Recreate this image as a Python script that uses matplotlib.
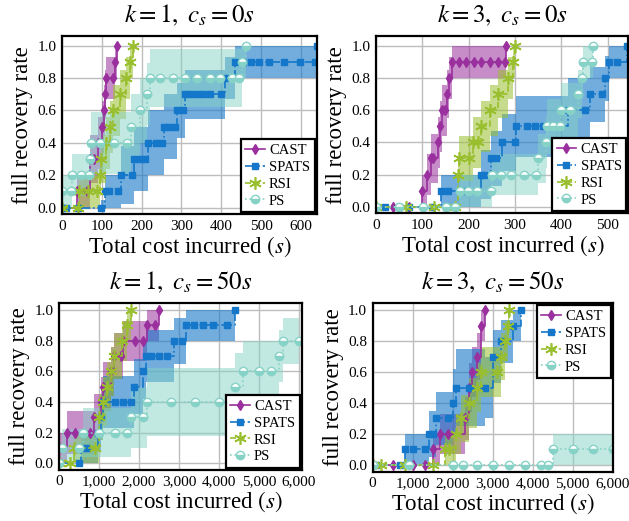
import numpy as np
import matplotlib
matplotlib.use("Agg")
import matplotlib.pyplot as plt
from matplotlib.ticker import FuncFormatter

plt.rcParams['font.family'] = ['Liberation Serif', 'DejaVu Serif']
plt.rcParams['mathtext.fontset'] = 'stix'

# ---- panel 1: k=1, cs=0 ----
p1_cast_x = [0, 38, 64, 70, 80, 90, 100, 105, 108, 110, 129, 133, 138]
p1_cast_y = [0, 0.1, 0.1, 0.3, 0.3, 0.4, 0.5, 0.6, 0.7, 0.8, 0.8, 0.9, 1.0]
p1_cast_e = [0, 0.1, 0.12, 0.15, 0.15, 0.16, 0.16, 0.16, 0.15, 0.13, 0.13, 0.1, 0]

p1_spats_x = [0, 11, 40, 99, 107, 119, 140, 147, 176, 180, 195, 209, 216, 236, 252, 256, 270, 285,
              290, 305, 308, 322, 338, 355, 373, 399, 410, 435, 454, 474, 495, 519, 558, 598, 636, 640]
p1_spats_y = [0, 0, 0, 0, 0.1, 0.1, 0.1, 0.2, 0.2, 0.3, 0.3, 0.3, 0.4, 0.4, 0.4, 0.5, 0.5, 0.5,
              0.6, 0.6, 0.7, 0.7, 0.7, 0.7, 0.7, 0.7, 0.8, 0.9, 0.9, 0.9, 0.9, 0.9, 0.9, 0.9, 0.9, 1.0]
p1_spats_e = [0, 0, 0, 0.05, 0.1, 0.1, 0.1, 0.18, 0.18, 0.2, 0.2, 0.2, 0.2, 0.2, 0.2, 0.2, 0.2, 0.2,
              0.17, 0.17, 0.15, 0.15, 0.15, 0.15, 0.15, 0.15, 0.13, 0.1, 0.1, 0.1, 0.1, 0.1, 0.1, 0.1, 0.1, 0.1]

p1_rsi_x = [0, 40, 42, 65, 88, 95, 97, 110, 120, 129, 146, 160, 171, 178]
p1_rsi_y = [0, 0, 0.1, 0.1, 0.1, 0.2, 0.3, 0.4, 0.5, 0.6, 0.7, 0.8, 0.9, 1.0]
p1_rsi_e = [0, 0, 0.1, 0.1, 0.1, 0.13, 0.15, 0.16, 0.16, 0.16, 0.15, 0.13, 0.1, 0]

p1_ps_x = [0, 22, 26, 48, 68, 70, 72, 96, 130, 164, 174, 195, 213, 220, 247, 278, 309, 339, 373,
           398, 427, 444, 452, 463]
p1_ps_y = [0.1, 0.1, 0.2, 0.2, 0.2, 0.3, 0.4, 0.4, 0.4, 0.4, 0.5, 0.6, 0.7, 0.8, 0.8, 0.8, 0.8, 0.8,
           0.8, 0.8, 0.8, 0.8, 0.9, 1.0]
p1_ps_e = [0.1, 0.1, 0.13, 0.13, 0.13, 0.15, 0.19, 0.19, 0.19, 0.19, 0.2, 0.2, 0.19, 0.18, 0.18,
           0.18, 0.18, 0.18, 0.18, 0.18, 0.18, 0.18, 0.1, 0]

# ---- panel 2: k=3, cs=0 ----
p2_cast_x = [0, 36, 71, 99, 109, 118, 123, 133, 138, 142, 148, 154, 158, 163, 179, 195, 211, 227,
             245, 263, 278, 280]
p2_cast_y = [0, 0, 0, 0.1, 0.2, 0.3, 0.3, 0.4, 0.5, 0.6, 0.6, 0.7, 0.8, 0.9, 0.9, 0.9, 0.9, 0.9,
             0.9, 0.9, 0.9, 1.0]
p2_cast_e = [0, 0, 0, 0.1, 0.13, 0.15, 0.15, 0.16, 0.16, 0.16, 0.16, 0.15, 0.13, 0.1, 0.1, 0.1,
             0.1, 0.1, 0.1, 0.1, 0.1, 0]

p2_spats_x = [0, 20, 50, 70, 120, 141, 155, 188, 227, 234, 249, 260, 271, 299, 303, 325, 343, 361,
              415, 451, 462, 487, 495, 504, 520, 543]
p2_spats_y = [0, 0, 0, 0, 0, 0.1, 0.1, 0.1, 0.2, 0.2, 0.3, 0.3, 0.4, 0.4, 0.5, 0.5, 0.5, 0.5,
              0.6, 0.6, 0.7, 0.7, 0.8, 0.9, 0.9, 1.0]
p2_spats_e = [0, 0, 0, 0, 0, 0.1, 0.1, 0.1, 0.15, 0.15, 0.17, 0.17, 0.18, 0.18, 0.19, 0.19, 0.19,
              0.19, 0.2, 0.2, 0.17, 0.17, 0.14, 0.1, 0.1, 0.1]

p2_rsi_x = [0, 65, 125, 170, 176, 179, 200, 209, 220, 227, 245, 263, 284, 296, 300]
p2_rsi_y = [0, 0, 0, 0, 0.2, 0.3, 0.3, 0.4, 0.4, 0.5, 0.6, 0.7, 0.8, 0.9, 1.0]
p2_rsi_e = [0, 0, 0, 0, 0.12, 0.14, 0.14, 0.16, 0.16, 0.16, 0.16, 0.15, 0.13, 0.1, 0]

p2_ps_x = [0, 50, 101, 150, 171, 182, 199, 217, 249, 251, 270, 291, 320, 346, 350, 366, 369, 383,
           397, 400, 418, 436, 444, 448, 466, 468]
p2_ps_y = [0, 0, 0, 0, 0, 0.1, 0.1, 0.1, 0.1, 0.2, 0.2, 0.2, 0.2, 0.2, 0.3, 0.4, 0.5, 0.5, 0.5,
           0.6, 0.6, 0.7, 0.8, 0.9, 0.9, 1.0]
p2_ps_e = [0, 0, 0, 0, 0, 0.1, 0.1, 0.1, 0.1, 0.13, 0.13, 0.13, 0.13, 0.13, 0.15, 0.16, 0.17,
           0.17, 0.17, 0.17, 0.17, 0.15, 0.13, 0.1, 0.1, 0]

# ---- panel 3: k=1, cs=50 ----
p3_cast_x = [0, 200, 400, 780, 880, 1050, 1100, 1300, 1380, 1550, 1600, 1900, 2100, 2190, 2400, 2500]
p3_cast_y = [0.1, 0.2, 0.2, 0.2, 0.3, 0.4, 0.5, 0.6, 0.7, 0.7, 0.8, 0.8, 0.8, 0.9, 0.9, 1.0]
p3_cast_e = [0.1, 0.14, 0.14, 0.14, 0.15, 0.16, 0.16, 0.16, 0.15, 0.15, 0.13, 0.13, 0.13, 0.1, 0.1, 0]

p3_spats_x = [0, 490, 560, 700, 980, 1050, 1100, 1400, 1600, 1810, 1880, 2100, 2180, 2300, 2500,
              2700, 2870, 3080, 3170, 3370, 3600, 3850, 4200, 4400]
p3_spats_y = [0, 0, 0.1, 0.1, 0.2, 0.3, 0.4, 0.4, 0.4, 0.4, 0.5, 0.6, 0.7, 0.7, 0.7, 0.7, 0.8,
              0.8, 0.9, 0.9, 0.9, 0.9, 0.9, 1.0]
p3_spats_e = [0, 0, 0.1, 0.1, 0.13, 0.15, 0.17, 0.17, 0.17, 0.17, 0.18, 0.18, 0.17, 0.17, 0.17,
              0.17, 0.15, 0.15, 0.1, 0.1, 0.1, 0.1, 0.1, 0]

p3_rsi_x = [0, 280, 370, 900, 1000, 1100, 1200, 1300, 1380, 1580, 1690, 1800]
p3_rsi_y = [0, 0, 0.1, 0.1, 0.3, 0.4, 0.5, 0.6, 0.7, 0.8, 0.9, 1.0]
p3_rsi_e = [0, 0, 0.1, 0.1, 0.15, 0.16, 0.16, 0.16, 0.15, 0.13, 0.1, 0]

p3_ps_x = [0, 80, 500, 600, 1000, 1400, 1700, 1800, 2100, 2200, 2800, 3400, 4000, 4400, 4600, 5000,
           5300, 5500, 5600, 6000]
p3_ps_y = [0, 0.1, 0.1, 0.2, 0.2, 0.2, 0.2, 0.3, 0.3, 0.4, 0.4, 0.4, 0.4, 0.5, 0.6, 0.6, 0.6,
           0.7, 0.8, 0.8]
p3_ps_e = [0, 0.12, 0.12, 0.16, 0.16, 0.16, 0.16, 0.2, 0.2, 0.22, 0.22, 0.22, 0.22, 0.22, 0.2,
           0.2, 0.2, 0.17, 0.15, 0.15]

# ---- panel 4: k=3, cs=50 ----
p4_cast_x = [0, 500, 1000, 1300, 1500, 1690, 1880, 2300, 2400, 2480, 2600, 2700, 2800]
p4_cast_y = [0, 0, 0, 0, 0.1, 0.2, 0.2, 0.3, 0.5, 0.6, 0.7, 0.9, 1.0]
p4_cast_e = [0, 0, 0, 0, 0.1, 0.13, 0.13, 0.14, 0.16, 0.16, 0.15, 0.1, 0]

p4_spats_x = [0, 80, 690, 800, 1000, 1300, 1400, 1500, 1580, 1880, 2000, 2080, 2400, 2800, 3000,
              3200, 3500, 3700]
p4_spats_y = [0, 0, 0, 0.1, 0.1, 0.1, 0.2, 0.2, 0.3, 0.3, 0.4, 0.5, 0.5, 0.5, 0.7, 0.8, 0.9, 1.0]
p4_spats_e = [0, 0, 0, 0.1, 0.1, 0.1, 0.15, 0.15, 0.17, 0.17, 0.22, 0.25, 0.25, 0.2, 0.17, 0.14,
              0.1, 0]

p4_rsi_x = [0, 200, 800, 1500, 1800, 1920, 2080, 2200, 2400, 2600, 2700, 3100, 3200, 3300, 3380, 3400]
p4_rsi_y = [0, 0, 0, 0, 0.1, 0.1, 0.2, 0.3, 0.4, 0.5, 0.6, 0.6, 0.7, 0.8, 0.9, 1.0]
p4_rsi_e = [0, 0, 0, 0, 0.1, 0.1, 0.13, 0.15, 0.16, 0.16, 0.16, 0.16, 0.15, 0.13, 0.1, 0]

p4_ps_x = [0, 900, 2000, 2250, 2600, 3000, 3400, 3800, 4200, 4380, 4500, 5000, 5500, 6000]
p4_ps_y = [0, 0, 0, 0, 0, 0, 0, 0, 0, 0, 0.1, 0.1, 0.1, 0.1]
p4_ps_e = [0, 0, 0, 0, 0, 0, 0, 0, 0, 0, 0.1, 0.1, 0.1, 0.1]

titles = [r"$k = 1,\ c_s = 0s$", r"$k = 3,\ c_s = 0s$",
          r"$k = 1,\ c_s = 50s$", r"$k = 3,\ c_s = 50s$"]
labels = ["CAST", "SPATS", "RSI", "PS"]

colors = ["#9a2f9e", "#1477c9", "#99bf2f", "#86d2c6"]
band_alpha = [0.55, 0.6, 0.55, 0.5]
styles = [dict(ls='-', marker='d', ms=5.5),
          dict(ls='-.', marker='s', ms=4.5),
          dict(ls='--', marker=(6, 2, 0), ms=9, mew=1.2),
          dict(ls=':', marker='o', ms=6, fillstyle='bottom', mfc='#86d2c6', mfcalt='white')]

panels = [
    [(p1_cast_x, p1_cast_y, p1_cast_e), (p1_spats_x, p1_spats_y, p1_spats_e),
     (p1_rsi_x, p1_rsi_y, p1_rsi_e), (p1_ps_x, p1_ps_y, p1_ps_e)],
    [(p2_cast_x, p2_cast_y, p2_cast_e), (p2_spats_x, p2_spats_y, p2_spats_e),
     (p2_rsi_x, p2_rsi_y, p2_rsi_e), (p2_ps_x, p2_ps_y, p2_ps_e)],
    [(p3_cast_x, p3_cast_y, p3_cast_e), (p3_spats_x, p3_spats_y, p3_spats_e),
     (p3_rsi_x, p3_rsi_y, p3_rsi_e), (p3_ps_x, p3_ps_y, p3_ps_e)],
    [(p4_cast_x, p4_cast_y, p4_cast_e), (p4_spats_x, p4_spats_y, p4_spats_e),
     (p4_rsi_x, p4_rsi_y, p4_rsi_e), (p4_ps_x, p4_ps_y, p4_ps_e)],
]

# axes boxes in figure fractions [left, bottom, width, height]
boxes = [[0.0986, 0.589, 0.405, 0.342],
         [0.598, 0.591, 0.401, 0.339],
         [0.0938, 0.098, 0.386, 0.3205],
         [0.5925, 0.095, 0.3816, 0.323]]
xlims = [(0, 640), (0, 545), (0, 6070), (0, 6000)]
ylims = [(-0.04, 1.06), (-0.04, 1.06), (-0.044, 1.046), (-0.044, 1.046)]
xticks = [np.arange(0, 700, 100), np.arange(0, 600, 100),
          np.arange(0, 7000, 1000), np.arange(0, 7000, 1000)]
legend_loc = ['lower right', 'lower right', 'lower right', 'upper right']

fig = plt.figure(figsize=(6.29, 5.21), dpi=100)

for i in range(4):
    ax = fig.add_axes(boxes[i])
    for j, (x, y, e) in enumerate(panels[i]):
        x = np.array(x, dtype=float)
        y = np.array(y)
        e = np.array(e)
        lo = np.clip(y - e, 0, 1)
        hi = np.clip(y + e, 0, 1)
        ax.fill_between(x, lo, hi, step='post', color=colors[j], alpha=band_alpha[j], lw=0)
        st = dict(styles[j])
        ax.plot(x, y, drawstyle='steps-post', color=colors[j], lw=1.2,
                mec=colors[j], label=labels[j], **st)
    ax.set_xlim(*xlims[i])
    ax.set_ylim(*ylims[i])
    ax.set_xticks(xticks[i])
    ax.set_yticks([0, 0.2, 0.4, 0.6, 0.8, 1.0])
    ax.yaxis.set_major_formatter(FuncFormatter(lambda v, p: "%.1f" % v))
    if i >= 2:
        ax.xaxis.set_major_formatter(FuncFormatter(lambda v, p: "{:,.0f}".format(v)))
    ax.grid(True, color='#bdbdbd', lw=1.0)
    ax.set_axisbelow(True)
    ax.tick_params(length=0, labelsize=11, pad=4)
    for s in ax.spines.values():
        s.set_linewidth(1.6)
        s.set_color('black')
    ax.set_title(titles[i], fontsize=18, pad=10)
    ax.set_xlabel(r"Total cost incurred $(s)$", fontsize=16.5, labelpad=1)
    ax.set_ylabel("full recovery rate", fontsize=16.5, labelpad=3)
    leg = ax.legend(loc=legend_loc[i], fontsize=10.5, frameon=True, fancybox=False,
                    borderaxespad=0.15, handlelength=1.35, handletextpad=0.3,
                    labelspacing=0.25, borderpad=0.3, framealpha=1)
    leg.get_frame().set_edgecolor('black')
    leg.get_frame().set_linewidth(1.6)

plt.savefig("out.png", dpi=100)
